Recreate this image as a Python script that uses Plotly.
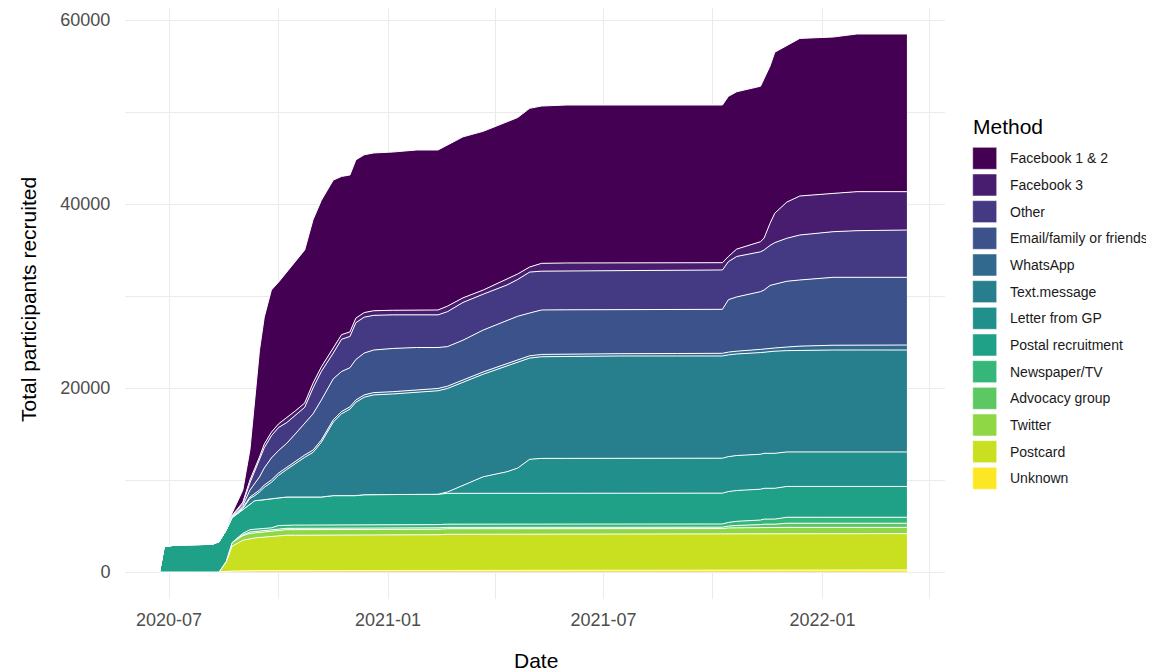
import plotly.graph_objects as go

# ---------------- data ----------------
dates = ["2020-06-23", "2020-06-27", "2020-07-10", "2020-08-06", "2020-08-12", "2020-08-18",
         "2020-08-23", "2020-09-01", "2020-09-07", "2020-09-11", "2020-09-15", "2020-09-19",
         "2020-09-25", "2020-10-01", "2020-10-08", "2020-10-15", "2020-10-23", "2020-10-30",
         "2020-11-06", "2020-11-16", "2020-11-23", "2020-11-30", "2020-12-05", "2020-12-12",
         "2020-12-20", "2021-01-05", "2021-01-25", "2021-02-12", "2021-02-20", "2021-03-05",
         "2021-03-22", "2021-04-11", "2021-04-20", "2021-04-30", "2021-05-10", "2021-05-31",
         "2021-07-15", "2021-09-01", "2021-10-09", "2021-10-14", "2021-10-21", "2021-11-10",
         "2021-11-13", "2021-11-18", "2021-11-22", "2021-12-02", "2021-12-13", "2022-01-10",
         "2022-01-30", "2022-03-13"]

unknown = [0]*5 + [50, 100] + [150]*6 + [200]*23 + [220]*14
postcard = [0]*5 + [1000, 2700, 3300, 3500, 3550, 3600, 3650, 3700, 3750] + [3800]*5 + [3850]*9 + [3900]*11 + [3950]*11
twitter = [0]*5 + [100, 400, 500] + [550]*5 + [600]*26 + [620, 640] + [680]*9
advocacy = [0]*7 + [100] + [150]*31 + [200, 250, 300, 350, 350, 350] + [450]*5
newspaper = [0]*7 + [150] + [250]*5 + [350]*26 + [400, 450, 500, 550, 550, 550] + [650]*5
postal = [0, 2800, 2950, 3000, 3300, 3400, 2700, 2540, 2800] + [3100]*4 + [3000] + [3050]*5 + [3150]*4 + [3250]*4 + [3300] + [3350]*22
letter_gp = [0]*28 + [150, 900, 1800, 2350, 2750, 3700] + [3800]*11 + [3750]*5
text_message = [0]*6 + [50, 150, 600, 550, 900, 1350, 1850, 2450, 3000, 3650, 4320, 4850, 5950, 8000,
                        8900, 9400, 10150, 10600, 10850, 10950, 11150, 11250, 11250, 11150, 11150, 11500,
                        11500, 11000, 11050, 11100, 11110, 11110, 11110, 11060, 11040, 11050, 11000, 11050,
                        11100, 11010, 11050, 11080, 11080, 11080]
whatsapp = [0]*6 + [50, 100, 150, 200, 200] + [250]*26 + [270, 290, 300, 300, 350, 350, 350, 350, 390, 450, 520, 540, 540]
email_family = [0]*6 + [50, 200, 750, 1100, 1430, 1850, 2400, 2450, 2600, 2950, 3480, 3940, 4350, 4450,
                        4350, 4250, 4400, 4550, 4630, 4700, 4600, 4450, 4300, 4350, 4550, 4650, 4750, 4650,
                        4830, 4800, 4790, 4800, 4780, 5700, 5900, 6270, 6400, 6850, 6950, 7150, 7190, 7380,
                        7360, 7360]
other = [0]*6 + [50, 250, 800, 1300, 1770, 2200, 2400, 2500, 2250, 2000, 1700, 2800, 3100, 2800, 3500,
                 3400, 4000, 3900, 3770, 3650, 3550, 3550, 3800, 4100, 3900, 3900, 4000, 4450, 4220, 4220,
                 4230, 4250, 4280, 4130, 4400, 4330, 4350, 4350, 4500, 4670, 4890, 4960, 5070, 5140]
facebook3 = [0]*6 + [50, 150, 300, 300, 400, 400, 400, 400, 500, 500, 470, 540, 500, 500, 500, 500, 500,
                     500, 500, 500, 530, 530, 600, 500, 450, 600, 600, 550, 850, 870, 850, 820, 790, 570,
                     800, 1100, 1300, 2400, 3200, 3930, 4240, 4160, 4240, 4170]
facebook12 = [0]*5 + [150, 250, 1310, 3300, 7500, 11600, 13800, 15450, 15400, 15850, 16200, 16630, 17760,
                      18100, 18300, 17200, 17050, 17200, 17150, 17150, 17200, 17390, 17390, 17500, 17500,
                      17250, 17100, 17000, 17250, 17100, 17170, 17160, 17140, 17140, 17400, 17100, 16900,
                      17300, 17100, 17500, 17000, 17130, 17000, 17140, 17140]

methods = ["Facebook 1 & 2", "Facebook 3", "Other", "Email/family or friends", "WhatsApp",
           "Text.message", "Letter from GP", "Postal recruitment", "Newspaper/TV",
           "Advocacy group", "Twitter", "Postcard", "Unknown"]
series = [facebook12, facebook3, other, email_family, whatsapp, text_message, letter_gp,
          postal, newspaper, advocacy, twitter, postcard, unknown]
colors = ["#440154", "#481D6F", "#443A83", "#3B528B", "#31688E", "#277F8E", "#21908C",
          "#1FA187", "#35B779", "#5DC863", "#8FD744", "#C8E020", "#FDE725"]

x_ticks = ["2020-07-01", "2021-01-01", "2021-07-01", "2022-01-01"]
x_tick_labels = ["2020-07", "2021-01", "2021-07", "2022-01"]
x_minor = ["2020-10-01", "2021-04-01", "2021-10-01", "2022-04-01"]
y_ticks = [0, 20000, 40000, 60000]
y_minor = [10000, 30000, 50000]

# ---------------- layout constants ----------------
# the page body has an 8px margin, so the figure starts at (8, 8) in the screenshot
OFF = 8
W, H = 1146, 664
PL, PR, PT, PB = 125 - OFF, 945 - OFF, 0, 599 - OFF


def fx(px):
    """screenshot x pixel -> paper coordinate"""
    return (px - OFF - PL) / (PR - PL)


def fy(py):
    """screenshot y pixel -> paper coordinate"""
    return (PB - (py - OFF)) / (PB - PT)


fig = go.Figure()
# bottom layer first so stacking order matches
for name, vals, col in reversed(list(zip(methods, series, colors))):
    fig.add_trace(go.Scatter(
        x=dates, y=vals, name=name, mode="lines", stackgroup="one",
        line=dict(color="white", width=1), fillcolor=col, hoverinfo="skip",
        showlegend=False))

FONT = "Liberation Sans, Arial, sans-serif"
grid = "#EBEBEB"
fig.update_layout(
    width=W, height=H, paper_bgcolor="white", plot_bgcolor="white",
    margin=dict(l=PL, r=W - PR, t=PT, b=H - PB, autoexpand=False),
    font=dict(family=FONT),
    showlegend=False,
    xaxis=dict(type="date", range=["2020-05-25", "2022-04-14"], tickvals=x_ticks,
               ticktext=x_tick_labels, showgrid=True, gridcolor=grid, gridwidth=1.2,
               zeroline=False, showline=False, ticks="outside", ticklen=4,
               tickcolor="rgba(0,0,0,0)", tickfont=dict(size=18, color="#4D4D4D", family=FONT),
               minor=dict(tickvals=x_minor, showgrid=True, gridcolor=grid, gridwidth=0.7,
                          ticks="")),
    yaxis=dict(range=[-2935, 61304], tickvals=y_ticks, ticktext=[str(v) for v in y_ticks],
               showgrid=True, gridcolor=grid, gridwidth=1.2, zeroline=False, showline=False,
               ticks="outside", ticklen=10, tickcolor="rgba(0,0,0,0)",
               tickfont=dict(size=18, color="#4D4D4D", family=FONT),
               minor=dict(tickvals=y_minor, showgrid=True, gridcolor=grid, gridwidth=0.7,
                          ticks="")),
)

annotations = [
    dict(text="Total participants recruited", x=fx(28), y=fy(300), xref="paper", yref="paper",
         textangle=-90, showarrow=False, xanchor="center", yanchor="middle",
         font=dict(size=21, color="black", family=FONT)),
    dict(text="Date", x=fx(536), y=fy(660), xref="paper", yref="paper", showarrow=False,
         xanchor="center", yanchor="middle", font=dict(size=21, color="black", family=FONT)),
    dict(text="Method", x=fx(971), y=fy(126), xref="paper", yref="paper", showarrow=False,
         xanchor="left", yanchor="middle", font=dict(size=21, color="black", family=FONT)),
]
shapes = []
for i, (name, col) in enumerate(zip(methods, colors)):
    top = 147.3 + 26.67 * i
    shapes.append(dict(type="rect", xref="paper", yref="paper", x0=fx(972.7), x1=fx(996.7),
                       y0=fy(top + 22), y1=fy(top), fillcolor=col,
                       line=dict(color="white", width=0.5)))
    annotations.append(dict(text=name, x=fx(1008), y=fy(top + 11), xref="paper", yref="paper",
                            showarrow=False, xanchor="left", yanchor="middle",
                            font=dict(size=14, color="#1A1A1A", family=FONT)))
fig.update_layout(annotations=annotations, shapes=shapes)

fig.write_html("out.html")
